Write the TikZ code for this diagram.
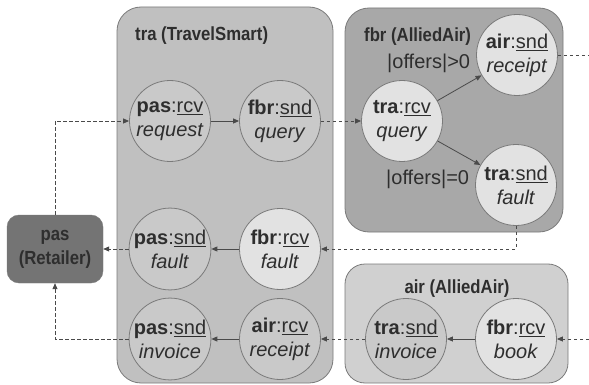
\documentclass[tikz,border=0pt]{standalone}
\usepackage{fontspec}
\setmainfont{Liberation Sans}
\newfontfamily\titlefont[FakeStretch=0.88]{Liberation Sans}
\usetikzlibrary{arrows.meta}
\definecolor{traFill}{HTML}{C0C0C0}
\definecolor{fbrFill}{HTML}{A8A8A8}
\definecolor{airFill}{HTML}{D0D0D0}
\definecolor{pasFill}{HTML}{747474}
\definecolor{boxLine}{HTML}{7A7A7A}
\definecolor{midCircle}{HTML}{C9C9C9}
\definecolor{lightCircle}{HTML}{E2E2E2}
\definecolor{inkText}{HTML}{2E2E2E}
\definecolor{wire}{HTML}{4A4A4A}
\tikzset{
  container/.style={draw=boxLine, line width=0.8pt, rounded corners=24pt},
  boxtitle/.style={font=\titlefont\bfseries\fontsize{19}{21}\selectfont, text=inkText, inner sep=0pt},
  activity/.style={circle, draw=boxLine, line width=0.8pt, minimum size=81pt, inner sep=0pt,
    align=center, text=inkText, font=\fontsize{20}{24}\selectfont},
  midact/.style={activity, fill=midCircle},
  lightact/.style={activity, fill=lightCircle},
  guard/.style={font=\fontsize{20}{22}\selectfont, text=inkText, inner sep=0pt},
  flow/.style={draw=wire, line width=0.8pt, -{Triangle[length=6pt,width=5pt]}},
  msg/.style={flow, dash pattern=on 3.5pt off 2.5pt},
}
\newcommand{\act}[3]{\textbf{#1}:\underline{#2}\\\textit{#3}}
\begin{document}
\begin{tikzpicture}[x=1pt,y=-1pt]
\useasboundingbox (0,0) rectangle (589,385);
\fill[white] (0,0) rectangle (589,385);

% participant containers
\draw[container, fill=traFill] (117,7) rectangle (333,383);
\draw[container, fill=fbrFill] (345,8) rectangle (563,232);
\draw[container, fill=airFill, rounded corners=20pt] (345,264) rectangle (568,383);
\node[draw=boxLine, fill=pasFill, rounded corners=12pt, minimum width=96pt, minimum height=68pt,
      align=center, text=inkText, font=\titlefont\bfseries\fontsize{19}{24}\selectfont]
      (pas) at (55,249) {pas\\(Retailer)};

% container titles
\node[boxtitle, anchor=west] (traT) at (135,36) {tra (TravelSmart)};
\node[boxtitle, anchor=west] (fbrT) at (364,37) {fbr (AlliedAir)};
\node[boxtitle] (airT) at (457,289) {air (AlliedAir)};

% TravelSmart activities
\node[midact] (pasRcv) at (170,121) {\act{pas}{rcv}{request}};
\node[midact] (fbrSnd) at (280,121) {\act{fbr}{snd}{query}};
\node[midact] (pasSndF) at (170,249) {\act{pas}{snd}{fault}};
\node[lightact] (fbrRcvF) at (280,249) {\act{fbr}{rcv}{fault}};
\node[midact] (pasSndI) at (170,339) {\act{pas}{snd}{invoice}};
\node[midact] (airRcv) at (280,339) {\act{air}{rcv}{receipt}};

% AlliedAir (fbr) activities
\node[lightact] (traRcv) at (402,121) {\act{tra}{rcv}{query}};
\node[lightact] (airSnd) at (517,55) {\act{air}{snd}{receipt}};
\node[lightact] (traSndF) at (516,185) {\act{tra}{snd}{fault}};
\node[guard, anchor=west] (gPos) at (387,63) {|offers|>0};
\node[guard, anchor=west] (gZero) at (386,179) {|offers|=0};

% AlliedAir (air) activities
\node[midact] (traSndI) at (406,339) {\act{tra}{snd}{invoice}};
\node[lightact] (fbrRcvB) at (516,339) {\act{fbr}{rcv}{book}};

% free ends at the right border
\coordinate (outR) at (589,55);
\coordinate (inR) at (589,339);

% control flow inside participants
\draw[flow] (pasRcv) -- (fbrSnd);
\draw[flow] (traRcv) -- (airSnd);
\draw[flow] (traRcv) -- (traSndF);
\draw[flow] (fbrRcvF) -- (pasSndF);
\draw[flow] (airRcv) -- (pasSndI);
\draw[flow] (fbrRcvB) -- (traSndI);

% message links between participants
\draw[msg] (pas.north) |- (pasRcv.west);
\draw[msg] (fbrSnd) -- (traRcv);
\draw[msg, -] (airSnd.east) -- (outR);
\draw[msg] (traSndF.south) |- (fbrRcvF.east);
\draw[msg] (pasSndF.west) -- (pas.east);
\draw[msg] (pasSndI.west) -| (pas.south);
\draw[msg] (traSndI) -- (airRcv);
\draw[msg] (inR) -- (fbrRcvB.east);
\end{tikzpicture}
\end{document}
